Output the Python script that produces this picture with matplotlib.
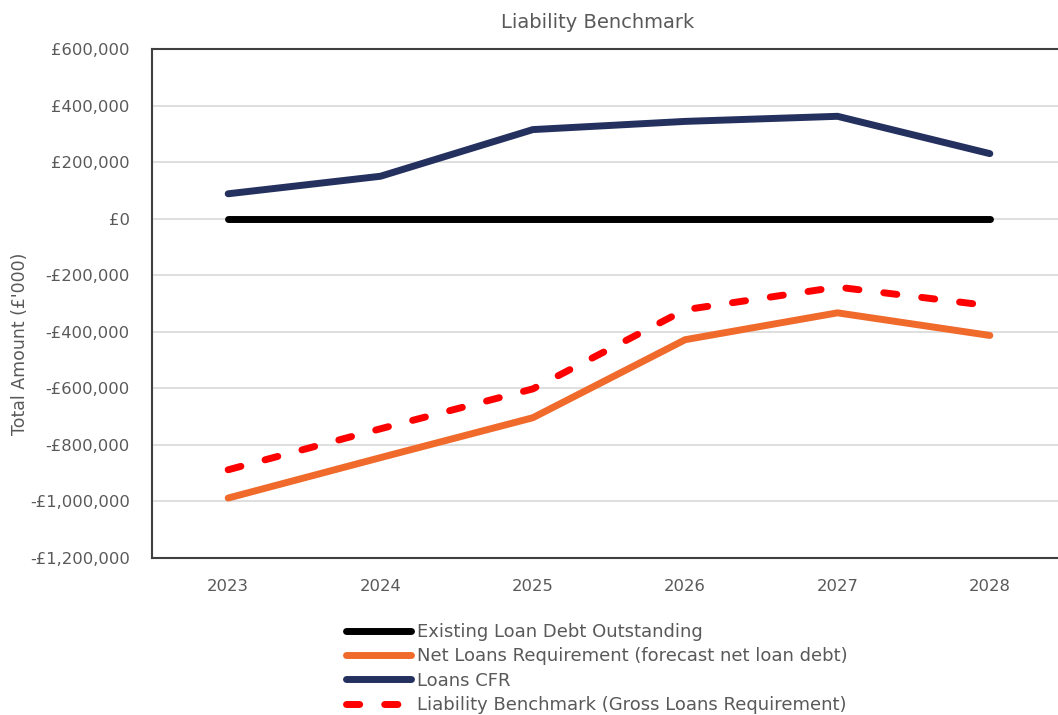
import matplotlib

matplotlib.use("Agg")
import matplotlib.pyplot as plt
from matplotlib.ticker import FuncFormatter

# Chart data
years = ["2023", "2024", "2025", "2026", "2027", "2028"]
existing_debt = [0, 0, 0, 0, 0, 0]
net_loans_req = [-988000, -845000, -704000, -428000, -333000, -413000]
loans_cfr = [88000, 150000, 315000, 344000, 362000, 230000]
liability_benchmark = [-888000, -743000, -602000, -322000, -242000, -308000]

TEXT_GREY = "#595959"

plt.rcParams["font.family"] = ["DejaVu Sans"]


def money(v, _pos=None):
    if v == 0:
        return "£0"
    sign = "-" if v < 0 else ""
    return f"{sign}£{abs(v):,.0f}"


fig = plt.figure(figsize=(10.58, 7.15), dpi=100)
ax = fig.add_axes([152 / 1058, 157 / 715, 914 / 1058, 509 / 715])

x = range(len(years))
lw = 5.0
ax.plot(x, existing_debt, color="black", lw=lw, solid_capstyle="round",
        label="Existing Loan Debt Outstanding", zorder=3)
ax.plot(x, net_loans_req, color="#F06A2B", lw=lw, solid_capstyle="round",
        label="Net Loans Requirement (forecast net loan debt)", zorder=3)
ax.plot(x, loans_cfr, color="#24305E", lw=lw, solid_capstyle="round",
        label="Loans CFR", zorder=3)
ax.plot(x, liability_benchmark, color="#FF0000", lw=lw, dashes=(1.9, 3.6),
        dash_capstyle="round",
        label="Liability Benchmark (Gross Loans Requirement)", zorder=3)

ax.set_xlim(-0.5, len(years) - 0.5)
ax.set_ylim(-1200000, 600000)
ax.set_yticks(range(-1200000, 600001, 200000))
ax.yaxis.set_major_formatter(FuncFormatter(money))
ax.set_xticks(list(x))
ax.set_xticklabels(years)

ax.grid(axis="y", color="#D9D9D9", lw=1.2, zorder=0)
ax.set_axisbelow(True)
for side in ["left", "top", "bottom"]:
    ax.spines[side].set_color("#404040")
    ax.spines[side].set_linewidth(1.5)
ax.spines["right"].set_visible(False)
ax.tick_params(axis="both", colors=TEXT_GREY, labelsize=11.8, length=0)
ax.tick_params(axis="x", pad=15)
ax.tick_params(axis="y", pad=16)

ax.set_ylabel("Total Amount (£'000)", color=TEXT_GREY, fontsize=12.5)
ax.yaxis.set_label_coords(-0.135, 0.42)

fig.text(598 / 1058, 1 - 22 / 715, "Liability Benchmark", ha="center",
         va="center", color=TEXT_GREY, fontsize=14)

fig.legend(loc="upper left", bbox_to_anchor=(337 / 1058, 1 - 614 / 715),
           frameon=False, fontsize=13, handlelength=3.6, handletextpad=0.35,
           labelspacing=0.35, labelcolor=TEXT_GREY, borderpad=0)

fig.savefig("out.png", dpi=100)
